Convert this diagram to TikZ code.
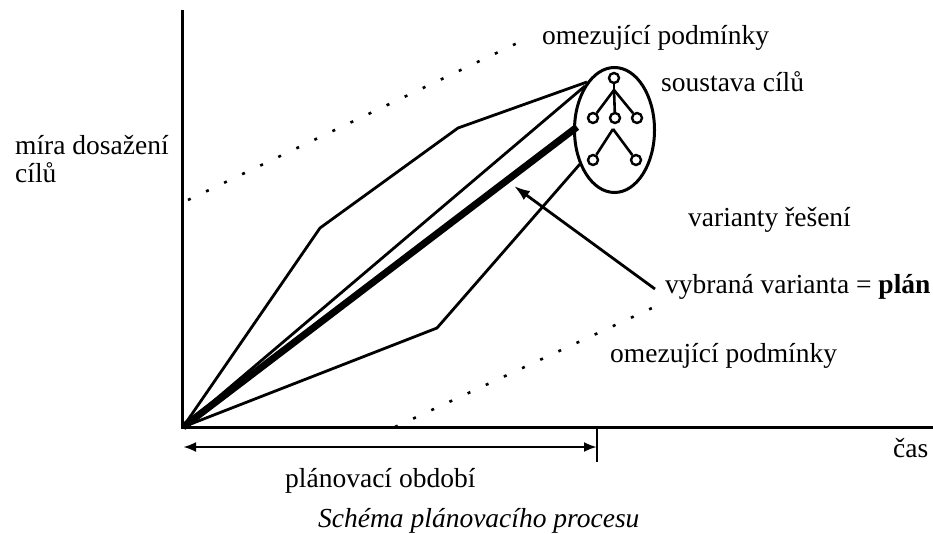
\documentclass[tikz,border=0pt]{standalone}
\usepackage{fontspec}
\setmainfont{Liberation Serif}
\usetikzlibrary{arrows.meta,shapes.geometric}
\begin{document}
\begin{tikzpicture}[x=1pt,y=-1pt,
  lbl/.style={anchor=base west,inner sep=0pt,font=\fontsize{27.5}{30}\selectfont},
  axis/.style={line width=3pt},
  var/.style={line width=2.8pt,line join=round},
  plan/.style={line width=7pt},
  limit/.style={line width=2.6pt,dash pattern=on 3pt off 17pt},
  tnode/.style={circle,draw,line width=2.4pt,minimum size=10pt,inner sep=0pt},
  tedge/.style={line width=2.6pt}]
\useasboundingbox (0,0) rectangle (933,534);
% axes
\coordinate (O) at (183,427);
\coordinate (ytop) at (182,10);
\coordinate (xend) at (940,427);
\draw[axis] (ytop) -- (182,427) -- (xend);
% constraint lines
\coordinate (d1a) at (188,200); \coordinate (d1b) at (530,37);
\coordinate (d2a) at (395,427); \coordinate (d2b) at (665,302);
\draw[limit] (d1a) -- (d1b);
\draw[limit] (d2a) -- (d2b);
% goal system
\node[draw,ellipse,line width=3pt,minimum width=80pt,minimum height=125pt,inner sep=0pt] (goals) at (614.5,130) {};
\node[tnode] (t0) at (614,78) {};
\coordinate (j0) at (614,90);
\node[tnode] (t1) at (593,118) {};
\node[tnode] (t2) at (615,118) {};
\node[tnode] (t3) at (637,118) {};
\coordinate (j1) at (613,129);
\node[tnode] (t4) at (593,160) {};
\node[tnode] (t5) at (636,160) {};
\draw[tedge] (t0) -- (j0);
\draw[tedge] (j0) -- (t1);
\draw[tedge] (j0) -- (t2);
\draw[tedge] (j0) -- (t3);
\draw[tedge] (j1) -- (t4);
\draw[tedge] (j1) -- (t5);
% variants
\coordinate (u1) at (320,228); \coordinate (u2) at (458,128); \coordinate (ue) at (587,82);
\coordinate (se) at (585,86);
\coordinate (pe) at (577,127);
\coordinate (l1) at (437,328); \coordinate (le) at (580,164);
\draw[var] (O) -- (u1) -- (u2) -- (ue);
\draw[var] (O) -- (se);
\draw[var] (O) -- (l1) -- (le);
\draw[plan] (O) -- (pe);
% arrow to chosen plan
\coordinate (atail) at (655,289);
\coordinate (ahead) at (514,186);
\draw[line width=2.8pt,-{Latex[length=16pt,width=11pt]}] (atail) -- (ahead);
% planning period
\coordinate (pa) at (183,447); \coordinate (pb) at (597,447);
\coordinate (tk1) at (597,427); \coordinate (tk2) at (597,462);
\draw[line width=2.6pt,{Latex[length=13pt,width=10pt]}-{Latex[length=13pt,width=10pt]}] (pa) -- (pb);
\draw[line width=2pt] (tk1) -- (tk2);
% labels
\node[lbl] (lt) at (542,45) {omezující podmínky};
\node[lbl] (lg) at (661,92) {soustava cílů};
\node[lbl] (lv) at (688,227) {varianty řešení};
\node[lbl] (lp) at (665,293) {vybraná varianta = \textbf{plán}};
\node[lbl] (lb) at (610,362) {omezující podmínky};
\node[lbl] (ly1) at (15,155) {míra dosažení};
\node[lbl] (ly2) at (15,183) {cílů};
\node[lbl] (lx) at (893,457) {čas};
\node[lbl] (lpp) at (285,487) {plánovací období};
\node[lbl,font=\fontsize{27.5}{30}\selectfont\itshape] (cap) at (318,527) {Schéma plánovacího procesu};
\end{tikzpicture}
\end{document}
